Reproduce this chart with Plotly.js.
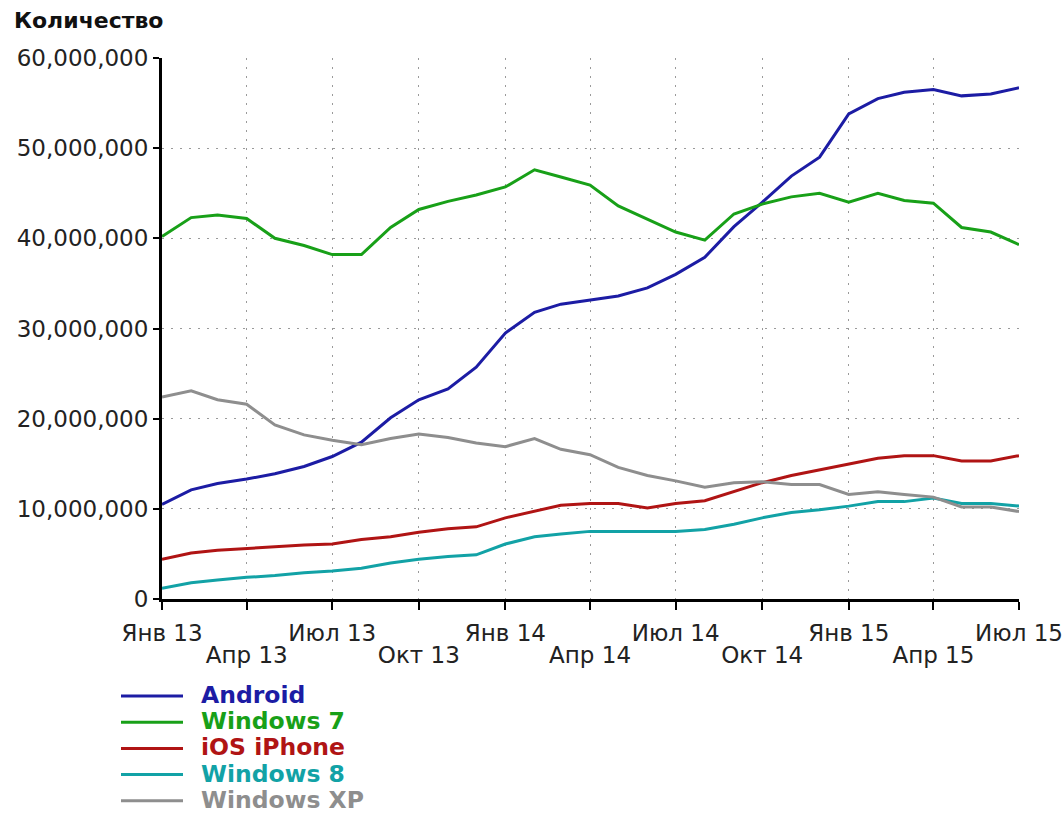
<!DOCTYPE html>
<html>
<head>
<meta charset="utf-8">
<script src="https://cdn.plot.ly/plotly-3.0.1.min.js"></script>
<style>html,body{margin:0;padding:0;background:#fff;}#chart{width:1063px;height:815px;}</style>
</head>
<body>
<div id="chart"></div>
<script>
// ---- data ----
var months = ['2013-01-01','2013-02-01','2013-03-01','2013-04-01','2013-05-01','2013-06-01',
  '2013-07-01','2013-08-01','2013-09-01','2013-10-01','2013-11-01','2013-12-01',
  '2014-01-01','2014-02-01','2014-03-01','2014-04-01','2014-05-01','2014-06-01',
  '2014-07-01','2014-08-01','2014-09-01','2014-10-01','2014-11-01','2014-12-01',
  '2015-01-01','2015-02-01','2015-03-01','2015-04-01','2015-05-01','2015-06-01','2015-07-01'];

var seriesNames = ['Android','Windows 7','iOS iPhone','Windows 8','Windows XP'];

// values in millions
var android   = [10.5,12.1,12.8,13.3,13.9,14.7,15.8,17.4,20.1,22.1,23.3,25.7,29.5,31.8,32.7,33.2,33.6,34.5,36.0,37.9,41.3,44.0,46.9,49.0,53.8,55.5,56.2,56.5,55.8,56.0,56.7];
var windows7  = [40.2,42.3,42.6,42.2,40.0,39.2,38.2,38.2,41.2,43.2,44.1,44.8,45.7,47.6,46.8,45.9,43.6,42.1,40.7,39.8,42.7,43.8,44.6,45.0,44.0,45.0,44.2,43.9,41.2,40.7,39.3];
var iosIphone = [4.4,5.1,5.4,5.6,5.8,6.0,6.1,6.6,6.9,7.4,7.8,8.0,9.0,9.7,10.4,10.6,10.6,10.1,10.6,10.9,11.9,12.9,13.7,14.3,15.0,15.6,15.9,15.9,15.3,15.3,15.9];
var windows8  = [1.2,1.8,2.1,2.4,2.6,2.9,3.1,3.4,4.0,4.4,4.7,4.9,6.1,6.9,7.2,7.5,7.5,7.5,7.5,7.7,8.3,9.0,9.6,9.9,10.3,10.8,10.8,11.2,10.6,10.6,10.3];
var windowsXP = [22.4,23.1,22.1,21.6,19.3,18.2,17.6,17.1,17.8,18.3,17.9,17.3,16.9,17.8,16.6,16.0,14.6,13.7,13.1,12.4,12.9,13.0,12.7,12.7,11.6,11.9,11.6,11.3,10.2,10.2,9.7];

var seriesValues = [android, windows7, iosIphone, windows8, windowsXP];
var seriesColors = ['#1c1ca4','#18a018','#b01414','#12a2a6','#8e8e8e'];

var tickRow1Vals = ['2013-01-01','2013-07-01','2014-01-01','2014-07-01','2015-01-01','2015-07-01'];
var tickRow1Text = ['Янв 13','Июл 13','Янв 14','Июл 14','Янв 15','Июл 15'];
var tickRow2Vals = ['2013-04-01','2013-10-01','2014-04-01','2014-10-01','2015-04-01'];
var tickRow2Text = ['Апр 13','Окт 13','Апр 14','Окт 14','Апр 15'];
var yTickVals = [0,10000000,20000000,30000000,40000000,50000000,60000000];

// ---- build ----
var traces = seriesValues.map(function(vals, i){
  return {
    x: months,
    y: vals.map(function(v){ return v*1e6; }),
    type: 'scatter', mode: 'lines', name: seriesNames[i],
    line: {color: seriesColors[i], width: 3},
    showlegend: false
  };
});

var allQuarterVals = tickRow1Vals.concat(tickRow2Vals);
var allQuarterText = tickRow1Text.concat(tickRow2Vals.map(function(){return '';}));

var tickFont = {family: 'DejaVu Sans', size: 23, color: '#222'};
var gridDash = '2px,7px';

// manual legend
var shapes = [], annotations = [];
var pxL = 162, pxW = 857, pxB = 599, pxH = 541;
function px2x(p){ return (p - pxL)/pxW; }
function px2y(p){ return (pxB - p)/pxH; }
seriesNames.forEach(function(n, i){
  var yy = 695 + i*26.2;
  shapes.push({type:'line', xref:'paper', yref:'paper', x0:px2x(121), x1:px2x(183), y0:px2y(yy+1), y1:px2y(yy+1),
    line:{color: seriesColors[i], width: 3}});
  annotations.push({xref:'paper', yref:'paper', x:px2x(200), y:px2y(yy), xanchor:'left', yanchor:'middle',
    text:'<b>'+n+'</b>', showarrow:false, borderpad:0, font:{family:'DejaVu Sans', size:23.5, color: seriesColors[i]}});
});

var layout = {
  width: 1063, height: 815,
  margin: {l: 162, r: 44, t: 58, b: 216},
  paper_bgcolor: '#fff', plot_bgcolor: '#fff',
  title: {text: '<b>Количество</b>', x: 14/1063, xanchor: 'left', xref: 'container',
          y: 1 - 20/815, yanchor: 'middle', yref: 'container',
          font: {family: 'DejaVu Sans', size: 22, color: '#111'}},
  xaxis: {
    type: 'date', range: ['2013-01-01','2015-07-01'],
    tickvals: allQuarterVals, ticktext: allQuarterText,
    ticks: 'outside', ticklen: 8, tickwidth: 2, tickcolor: '#000',
    showline: true, linecolor: '#000', linewidth: 3,
    showgrid: true, gridcolor: '#9a9a9a', gridwidth: 1, griddash: gridDash,
    zeroline: false, tickfont: tickFont, fixedrange: true, ticklabelstandoff: 3
  },
  xaxis2: {
    type: 'date', range: ['2013-01-01','2015-07-01'], overlaying: 'x', anchor: 'y', side: 'bottom',
    tickvals: tickRow2Vals, ticktext: tickRow2Text,
    ticks: '', showline: false, showgrid: false, zeroline: false,
    ticklabelstandoff: 40, tickfont: tickFont
  },
  yaxis: {
    range: [0, 60000000], tickvals: yTickVals, tickformat: ',d',
    ticks: 'outside', ticklen: 6, tickwidth: 2, tickcolor: '#000',
    showline: true, linecolor: '#000', linewidth: 3,
    showgrid: true, gridcolor: '#9a9a9a', gridwidth: 1, griddash: gridDash,
    zeroline: false, tickfont: tickFont, fixedrange: true
  },
  shapes: shapes,
  annotations: annotations,
  showlegend: false
};

// invisible trace to activate xaxis2
traces.push({x: ['2013-01-01'], y: [null], xaxis: 'x2', type: 'scatter', mode: 'lines', showlegend: false, hoverinfo: 'skip'});

Plotly.newPlot('chart', traces, layout, {staticPlot: true});
</script>
</body>
</html>
